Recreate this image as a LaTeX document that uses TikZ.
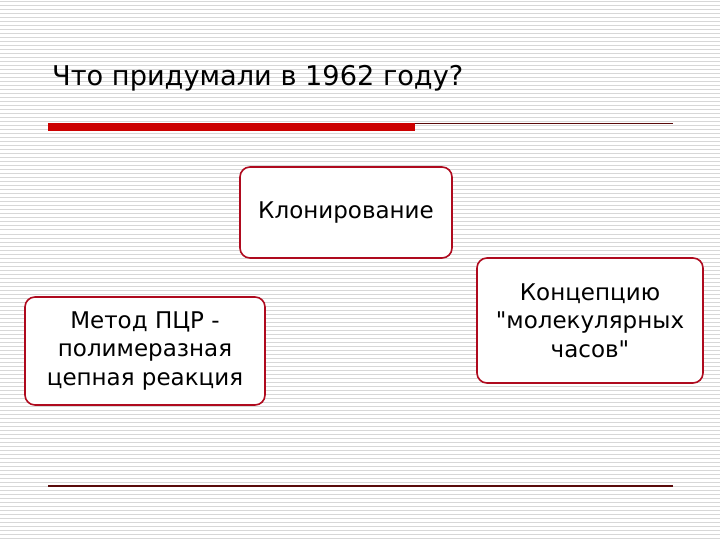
\documentclass[tikz,border=0pt]{standalone}
\usepackage{fontspec}
\setmainfont{DejaVu Sans}
\newfontfamily\boxfont{DejaVu Sans}
\definecolor{boxred}{RGB}{175,10,30}
\definecolor{rulered}{RGB}{204,0,0}
\definecolor{darkrule}{RGB}{90,10,10}
\definecolor{stripe}{RGB}{215,215,215}

\begin{document}
\begin{tikzpicture}[x=1pt,y=-1pt,
  ideabox/.style={draw=boxred,line width=1.6pt,fill=white,rounded corners=10pt,
    align=center,inner sep=2pt,font=\boxfont\fontsize{23}{28.5}\selectfont},
  stripeline/.style={stripe,line width=1pt}]
\useasboundingbox (0,0) rectangle (720,540);
\fill[white] (0,0) rectangle (720,540);
\foreach \y in {2,6,...,540}
  \draw[stripeline] (0,\y) -- (720,\y);

\node (title) [anchor=base west,inner sep=0pt,font=\fontsize{27.2}{30}\selectfont]
  at (52,86) {Что придумали в 1962 году?};
\fill[rulered] (48,123) rectangle (415,131);
\draw[darkrule,line width=1pt] (415,123.5) -- (673,123.5);
\draw[darkrule,line width=1.2pt] (48,486) -- (673,486);

\node (clone) [ideabox,minimum width=212pt,minimum height=91pt] at (346,212.5) {Клонирование};
\node (pcr) [ideabox,minimum width=240pt,minimum height=108pt] at (145,351)
  {Метод ПЦР -\\полимеразная\\цепная реакция};
\node (clock) [ideabox,minimum width=226pt,minimum height=125pt] at (590,320.5)
  {Концепцию\\"молекулярных\\часов"};
\end{tikzpicture}
\end{document}
